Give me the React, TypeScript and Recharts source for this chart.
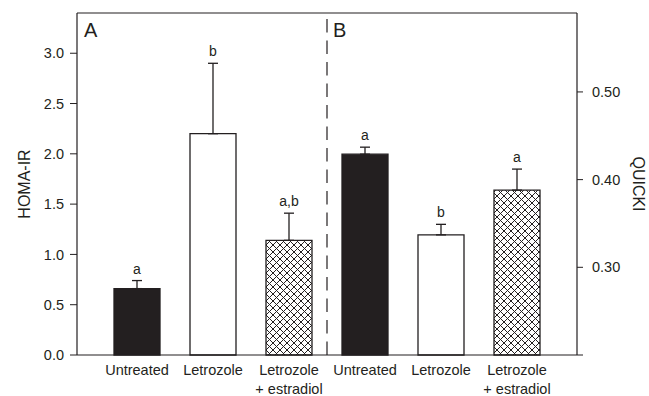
import {
  ComposedChart,
  Bar,
  Cell,
  ErrorBar,
  Line,
  LabelList,
  XAxis,
  YAxis,
  ReferenceLine,
  Label,
} from 'recharts'

const panels = ['A', 'B']
const treatments = ['Untreated', 'Letrozole', 'Letrozole + estradiol']

// panel A: HOMA-IR, left axis
const homaMean = [0.66, 2.2, 1.14]
const homaSem = [0.08, 0.7, 0.27]
const homaSig = ['a', 'b', 'a,b']

// panel B: QUICKI, right axis
const quickiMean = [0.429, 0.337, 0.388]
const quickiSem = [0.008, 0.012, 0.024]
const quickiSig = ['a', 'b', 'a']

const homaTicks = [0, 0.5, 1, 1.5, 2, 2.5, 3]
const quickiTicks = [0.2, 0.3, 0.4, 0.5]

const INK = '#231f20'
const FILLS = [INK, '#ffffff', 'url(#crosshatch)']

const data = [
  ...treatments.map((name, i) => ({
    key: `${panels[0]}-${i}`,
    name,
    homa: homaMean[i],
    homaErr: [0, homaSem[i]],
    homaTop: homaMean[i] + homaSem[i],
    homaSig: homaSig[i],
  })),
  ...treatments.map((name, i) => ({
    key: `${panels[1]}-${i}`,
    name,
    quicki: quickiMean[i],
    quickiErr: [0, quickiSem[i]],
    quickiTop: quickiMean[i] + quickiSem[i],
    quickiSig: quickiSig[i],
  })),
]

function TreatmentTick({ x, y, payload }: any) {
  const row = data.find((d) => d.key === payload.value)
  if (!row) return null
  const parts = row.name.split(' + ')
  const lines = parts.length > 1 ? [parts[0], '+ ' + parts[1]] : parts
  return (
    <text x={x} y={y + 12} textAnchor="middle" fontSize={14.5} fill={INK}>
      {lines.map((l, i) => (
        <tspan key={l} x={x} dy={i === 0 ? 0 : 19}>
          {l}
        </tspan>
      ))}
    </text>
  )
}

export default function App() {
  return (
    <div
      style={{
        position: 'absolute',
        left: 0,
        top: 0,
        fontFamily: '"Liberation Sans", Arial, sans-serif',
      }}
    >
      <ComposedChart
        width={649}
        height={396}
        data={data}
        margin={{ top: 12, right: 0, bottom: 0, left: 0 }}
      >
        <defs>
          <pattern
            id="crosshatch"
            width="7"
            height="7"
            patternUnits="userSpaceOnUse"
          >
            <rect width="7" height="7" fill="#ffffff" />
            <path
              d="M-1,-1L8,8M8,-1L-1,8"
              stroke={INK}
              strokeWidth={1}
            />
          </pattern>
        </defs>
        <XAxis
          xAxisId="a"
          dataKey="key"
          height={41}
          padding={{ left: 22, right: 22 }}
          tickLine={false}
          axisLine={{ stroke: INK, strokeWidth: 1.2 }}
          tick={<TreatmentTick />}
          interval={0}
        />
        <XAxis
          xAxisId="b"
          dataKey="key"
          orientation="top"
          height={1}
          padding={{ left: 22, right: 22 }}
          tick={false}
          tickLine={false}
          axisLine={{ stroke: INK, strokeWidth: 1.2 }}
        />
        <YAxis
          yAxisId="left"
          domain={[0, 3.4]}
          ticks={homaTicks}
          tickFormatter={(v: number) => v.toFixed(1)}
          width={77}
          tickSize={7}
          tickMargin={6}
          axisLine={{ stroke: INK, strokeWidth: 1.2 }}
          tickLine={{ stroke: INK }}
          tick={{ fontSize: 14.5, fill: INK }}
        >
          <Label
            value="HOMA-IR"
            angle={-90}
            position="center"
            dx={-14}
            fontSize={16}
            fill={INK}
          />
        </YAxis>
        <YAxis
          yAxisId="right"
          orientation="right"
          domain={[0.2, 0.59]}
          ticks={quickiTicks}
          tickFormatter={(v: number) => (v === 0.2 ? '' : v.toFixed(2))}
          width={72}
          tickSize={6}
          tickMargin={9}
          axisLine={{ stroke: INK, strokeWidth: 1.2 }}
          tickLine={{ stroke: INK }}
          tick={{ fontSize: 14.5, fill: INK }}
        >
          <Label
            value="QUICKI"
            angle={90}
            position="center"
            dx={26}
            fontSize={16}
            fill={INK}
          />
        </YAxis>
        <ReferenceLine
          xAxisId="a"
          yAxisId="left"
          x={`${panels[1]}-0`}
          position="start"
          stroke={INK}
          strokeWidth={1.2}
          strokeDasharray="13.5 8"
        />
        <Bar
          xAxisId="a"
          yAxisId="left"
          dataKey="homa"
          barSize={46}
          stroke={INK}
          strokeWidth={1.3}
          isAnimationActive={false}
        >
          {data.map((d, i) => (
            <Cell key={d.key} fill={FILLS[i % 3]} />
          ))}
          <ErrorBar
            dataKey="homaErr"
            direction="y"
            width={5}
            stroke={INK}
            strokeWidth={1.3}
          />
        </Bar>
        <Bar
          xAxisId="b"
          yAxisId="right"
          dataKey="quicki"
          barSize={46}
          stroke={INK}
          strokeWidth={1.3}
          isAnimationActive={false}
        >
          {data.map((d, i) => (
            <Cell key={d.key} fill={FILLS[i % 3]} />
          ))}
          <ErrorBar
            dataKey="quickiErr"
            direction="y"
            width={5}
            stroke={INK}
            strokeWidth={1.3}
          />
        </Bar>
        <Line
          xAxisId="a"
          yAxisId="left"
          dataKey="homaTop"
          stroke="none"
          dot={false}
          activeDot={false}
          isAnimationActive={false}
        >
          <LabelList
            dataKey="homaSig"
            position="top"
            offset={7}
            fontSize={14}
            fill={INK}
          />
        </Line>
        <Line
          xAxisId="b"
          yAxisId="right"
          dataKey="quickiTop"
          stroke="none"
          dot={false}
          activeDot={false}
          isAnimationActive={false}
        >
          <LabelList
            dataKey="quickiSig"
            position="top"
            offset={7}
            fontSize={14}
            fill={INK}
          />
        </Line>
        <text x={84} y={37} fontSize={20} fill={INK}>
          {panels[0]}
        </text>
        <text x={333} y={37} fontSize={20} fill={INK}>
          {panels[1]}
        </text>
      </ComposedChart>
    </div>
  )
}
